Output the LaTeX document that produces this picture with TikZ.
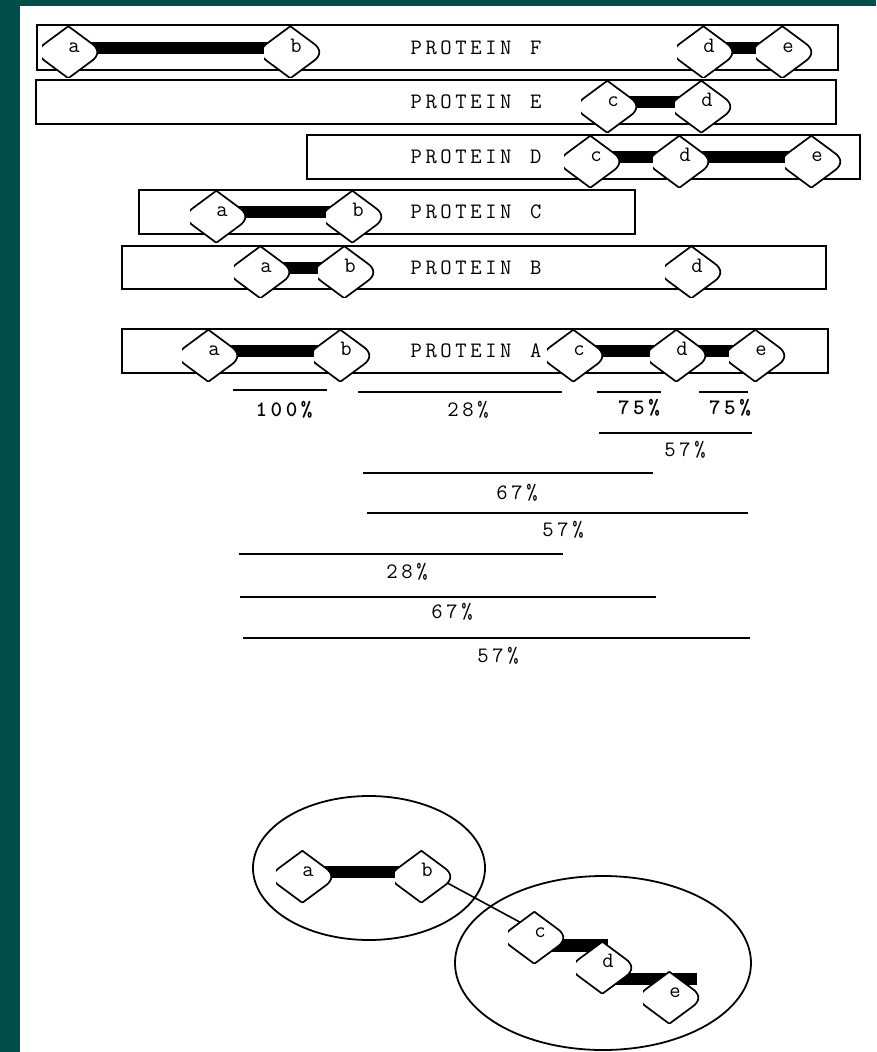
\documentclass[tikz,border=0pt]{standalone}
\usetikzlibrary{calc,shapes.geometric}
\definecolor{tealbg}{RGB}{0,77,74}
\pgfdeclarelayer{back}
\pgfdeclarelayer{bars}
\pgfsetlayers{back,bars,main}
\ExplSyntaxOn
\NewDocumentCommand\sptext{m}{\tl_map_inline:nn{#1}{\kern1.8pt##1\kern1.8pt}}
\ExplSyntaxOff
\newcommand\txtfont{\fontsize{22}{25}\selectfont\ttfamily}
\tikzset{
  hexnode/.style={minimum width=64pt, minimum height=60pt, inner sep=0pt,
    font=\txtfont, text height=9.5pt, text depth=0pt,
    path picture={
      \begin{scope}[shift={(path picture bounding box.center)}]
      \filldraw[fill=white, draw=black, line width=1.7pt, line join=round]
        (0,-26) -- (-23,-9) .. controls (-31,-3.5) and (-31,3.5) .. (-23,9)
        -- (0,26) -- (23,9) .. controls (31,3.5) and (31,-3.5) .. (23,-9) -- cycle;
      \end{scope}}},
  pbox/.style={draw=black, line width=2pt, inner sep=0pt},
  ptext/.style={font=\txtfont, inner sep=0pt, text height=13.4pt, text depth=0pt},
  pct/.style={font=\txtfont, inner sep=0pt, text height=13.4pt, text depth=0pt},
  pctb/.style={pct, font=\txtfont\bfseries},
  pline/.style={line width=2pt},
  bar/.style={line width=12pt, line cap=butt},
  thinedge/.style={line width=1.6pt},
  group/.style={draw=black, ellipse, line width=1.8pt, inner sep=0pt},
}
\begin{document}
\begin{tikzpicture}[x=1pt,y=-1pt]
\useasboundingbox (0,0) rectangle (876,1052);
\begin{pgfonlayer}{back}
  \fill[white] (0,0) rectangle (876,1052);
  \fill[tealbg] (0,0) rectangle (20,1052);
  \fill[tealbg] (0,0) rectangle (876,6);
\end{pgfonlayer}

% protein boxes
\node[pbox, minimum width=801pt, minimum height=45pt] (Fbox) at (437.5,47.5) {};
\node[pbox, minimum width=800pt, minimum height=44pt] (Ebox) at (436,102) {};
\node[pbox, minimum width=553pt, minimum height=44pt] (Dbox) at (583.5,157) {};
\node[pbox, minimum width=496pt, minimum height=44pt] (Cbox) at (387,212) {};
\node[pbox, minimum width=704pt, minimum height=43pt] (Bbox) at (474,267.5) {};
\node[pbox, minimum width=706pt, minimum height=44pt] (Abox) at (475,351) {};

\node[ptext] (Ft) at (476,47.5) {\sptext{PROTEIN~F}};
\node[ptext] (Et) at (476,102) {\sptext{PROTEIN~E}};
\node[ptext] (Dt) at (476,157) {\sptext{PROTEIN~D}};
\node[ptext] (Ct) at (476,212) {\sptext{PROTEIN~C}};
\node[ptext] (Bt) at (476,267.5) {\sptext{PROTEIN~B}};
\node[ptext] (At) at (476,351) {\sptext{PROTEIN~A}};

% domain nodes
\node[hexnode] (Fa) at (74,47.5) {a};
\node[hexnode] (Fb) at (296,47.5) {b};
\node[hexnode] (Fd) at (709,47.5) {d};
\node[hexnode] (Fe) at (788,47.5) {e};

\node[hexnode] (Ec) at (613,102) {c};
\node[hexnode] (Ed) at (707,102) {d};

\node[hexnode] (Dc) at (596,157) {c};
\node[hexnode] (Dd) at (685,157) {d};
\node[hexnode] (De) at (817,157) {e};

\node[hexnode] (Ca) at (222,212) {a};
\node[hexnode] (Cb) at (358,212) {b};

\node[hexnode] (Ba) at (266,267.5) {a};
\node[hexnode] (Bb) at (350,267.5) {b};
\node[hexnode] (Bd) at (697,267.5) {d};

\node[hexnode] (Aa) at (214,351) {a};
\node[hexnode] (Ab) at (346,351) {b};
\node[hexnode] (Ac) at (579,351) {c};
\node[hexnode] (Ad) at (682,351) {d};
\node[hexnode] (Ae) at (761,351) {e};

\begin{pgfonlayer}{bars}
  \draw[bar] (Fa.center) -- (Fb.center);
  \draw[bar] (Fd.center) -- (Fe.center);
  \draw[bar] (Ec.center) -- (Ed.center);
  \draw[bar] (Dc.center) -- (Dd.center);
  \draw[bar] (Dd.center) -- (De.center);
  \draw[bar] (Ca.center) -- (Cb.center);
  \draw[bar] (Ba.center) -- (Bb.center);
  \draw[bar] (Aa.center) -- (Ab.center);
  \draw[bar] (Ac.center) -- (Ad.center);
  \draw[bar] (Ad.center) -- (Ae.center);
\end{pgfonlayer}

% similarity lines and labels
\draw[pline] (233,390) -- (327,390);
\node[pctb] (p1) at (284,410) {\sptext{100\%}};
\draw[pline] (358,392) -- (562,392);
\node[pct] (p2) at (468,410) {\sptext{28\%}};
\draw[pline] (597,392) -- (661,392);
\node[pctb] (p3) at (639,408) {\sptext{75\%}};
\draw[pline] (699,392) -- (748,392);
\node[pctb] (p4) at (730,408) {\sptext{75\%}};
\draw[pline] (599,433) -- (752,433);
\node[pct] (p5) at (685,450) {\sptext{57\%}};
\draw[pline] (363,473) -- (653,473);
\node[pct] (p6) at (517,493) {\sptext{67\%}};
\draw[pline] (367,513) -- (748,513);
\node[pct] (p7) at (563,530) {\sptext{57\%}};
\draw[pline] (239,554) -- (563,554);
\node[pct] (p8) at (407,572) {\sptext{28\%}};
\draw[pline] (240,597) -- (656,597);
\node[pct] (p9) at (452,612) {\sptext{67\%}};
\draw[pline] (243,638) -- (750,638);
\node[pct] (p10) at (498,656) {\sptext{57\%}};

% bottom graph
\node[group, minimum width=232pt, minimum height=144pt] (grpL) at (369,868) {};
\node[group, minimum width=296pt, minimum height=174pt] (grpR) at (603,963) {};

\node[hexnode] (ga) at (308,872) {a};
\node[hexnode] (gb) at (427,872) {b};
\node[hexnode] (gc) at (540,933) {c};
\node[hexnode] (gd) at (608,963) {d};
\node[hexnode] (ge) at (675,993) {e};

\begin{pgfonlayer}{bars}
  \draw[bar] (ga.center) -- (gb.center);
  \draw[thinedge] (gb.center) -- (gc.center);
  \draw[bar, line width=13pt] ([yshift=-12pt]gc.center) -- ([yshift=18pt]gd.center);
  \draw[bar] ([yshift=-16pt]gd.center) -- ([xshift=22pt,yshift=14pt]ge.center);
\end{pgfonlayer}
\end{tikzpicture}
\end{document}
